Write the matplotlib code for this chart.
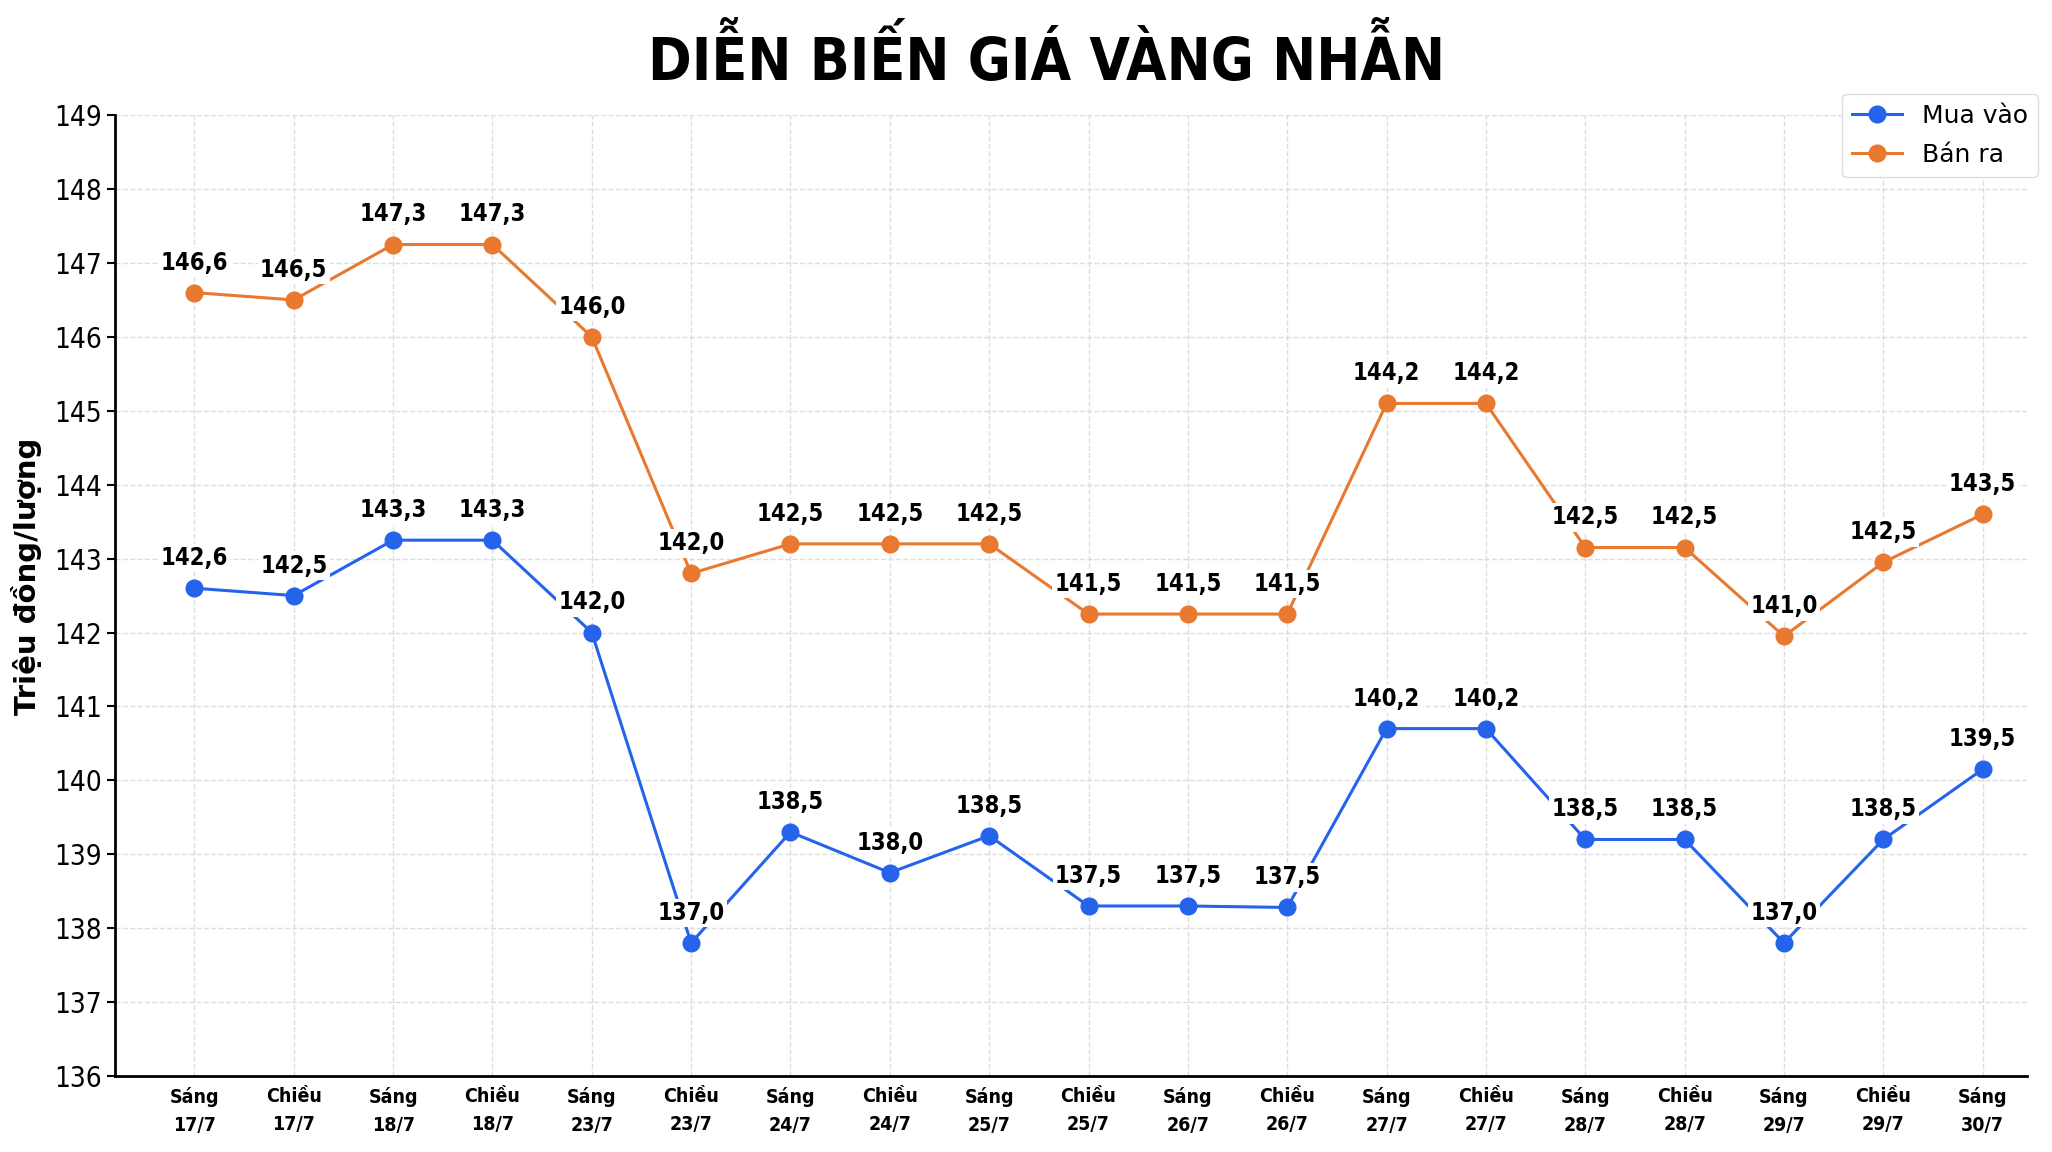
import matplotlib.pyplot as plt
import numpy as np

plt.rcParams['font.family'] = ['DejaVu Sans']

sessions = ['Sáng\n17/7', 'Chiều\n17/7', 'Sáng\n18/7', 'Chiều\n18/7', 'Sáng\n23/7',
            'Chiều\n23/7', 'Sáng\n24/7', 'Chiều\n24/7', 'Sáng\n25/7', 'Chiều\n25/7',
            'Sáng\n26/7', 'Chiều\n26/7', 'Sáng\n27/7', 'Chiều\n27/7', 'Sáng\n28/7',
            'Chiều\n28/7', 'Sáng\n29/7', 'Chiều\n29/7', 'Sáng\n30/7']

# plotted positions
mua_vao = [142.6, 142.5, 143.25, 143.25, 142.0, 137.8, 139.3, 138.75, 139.25, 138.3,
           138.3, 138.28, 140.7, 140.7, 139.2, 139.2, 137.8, 139.2, 140.15]
ban_ra = [146.6, 146.5, 147.25, 147.25, 146.0, 142.8, 143.2, 143.2, 143.2, 142.25,
          142.25, 142.25, 145.1, 145.1, 143.15, 143.15, 141.95, 142.95, 143.6]

# value labels printed on the chart
mua_labels = ['142,6', '142,5', '143,3', '143,3', '142,0', '137,0', '138,5', '138,0', '138,5',
              '137,5', '137,5', '137,5', '140,2', '140,2', '138,5', '138,5', '137,0', '138,5', '139,5']
ban_labels = ['146,6', '146,5', '147,3', '147,3', '146,0', '142,0', '142,5', '142,5', '142,5',
              '141,5', '141,5', '141,5', '144,2', '144,2', '142,5', '142,5', '141,0', '142,5', '143,5']

blue = '#2563EB'
orange = '#E8792E'

x = np.arange(len(sessions))

fig = plt.figure(figsize=(20.52, 11.52), dpi=100)
ax = fig.add_axes([0.056, 0.066, 0.932, 0.834])

ax.plot(x, mua_vao, '-o', color=blue, lw=2.2, ms=12, label='Mua vào', zorder=3)
ax.plot(x, ban_ra, '-o', color=orange, lw=2.2, ms=12, label='Bán ra', zorder=3)

for xi, v, t in zip(x, mua_vao, mua_labels):
    ax.annotate(t, (xi, v), xytext=(0, 13), textcoords='offset points', ha='center', va='bottom',
                fontsize=17, fontweight='bold', fontstretch='condensed',
                bbox=dict(boxstyle='square,pad=0.1', fc='white', ec='none'), zorder=4)
for xi, v, t in zip(x, ban_ra, ban_labels):
    ax.annotate(t, (xi, v), xytext=(0, 13), textcoords='offset points', ha='center', va='bottom',
                fontsize=17, fontweight='bold', fontstretch='condensed',
                bbox=dict(boxstyle='square,pad=0.1', fc='white', ec='none'), zorder=4)

ax.set_xlim(-0.8, 18.45)
ax.set_ylim(136, 149)
ax.set_yticks(np.arange(136, 150, 1))
ax.set_xticks(x)
ax.set_xticklabels(sessions, fontsize=14, fontweight='bold', fontstretch='condensed', linespacing=1.6)
ax.tick_params(axis='y', labelsize=20, length=6, width=1.5)
ax.tick_params(axis='x', length=0, pad=8)
for lab in ax.get_yticklabels():
    lab.set_fontstretch('condensed')

ax.grid(True, ls='--', color='#dddddd', lw=1)
ax.set_axisbelow(True)
for s in ['top', 'right']:
    ax.spines[s].set_visible(False)
for s in ['left', 'bottom']:
    ax.spines[s].set_linewidth(2)

ax.set_ylabel('Triệu đồng/lượng', fontsize=21, fontweight='bold')
ax.yaxis.set_label_coords(-0.038, 0.52)
fig.text(0.51, 0.948, 'DIỄN BIẾN GIÁ VÀNG NHẪN', ha='center', va='center',
         fontsize=42, fontweight='bold', fontstretch='condensed')

ax.legend(loc='upper right', fontsize=18, labelspacing=0.6, bbox_to_anchor=(1.012, 1.035),
          framealpha=1, edgecolor='#dddddd')

fig.savefig('out.png', dpi=100)
